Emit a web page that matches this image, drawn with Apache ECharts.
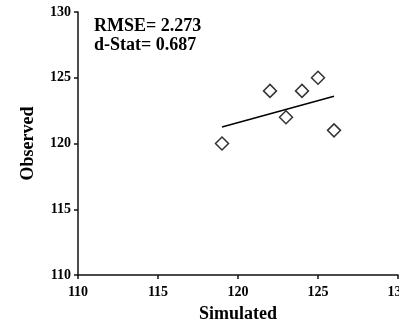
<!DOCTYPE html>
<html>
<head>
<meta charset="utf-8">
<script src="https://cdn.jsdelivr.net/npm/echarts@6/dist/echarts.min.js"></script>
<style>html,body{margin:0;padding:0;background:#fff}#c{width:399px;height:323px}</style>
</head>
<body>
<div id="c"></div>
<script>
var simulated = [119, 122, 123, 124, 125, 126];
var observed = [120, 124, 122, 124, 125, 121];
var trendX = [119, 126];
var trendY = [121.25, 123.6];
var statLines = ['RMSE= 2.273', 'd-Stat= 0.687'];
var xTitle = 'Simulated';
var yTitle = 'Observed';

var font = '"Liberation Serif", "Times New Roman", serif';
var chart = echarts.init(document.getElementById('c'), null, {renderer: 'canvas'});
var axisCommon = {
  min: 110, max: 130, interval: 5,
  axisLine: {show: true, lineStyle: {color: '#111', width: 1.5}},
  axisTick: {show: true, inside: false, length: 4, lineStyle: {color: '#111', width: 1.5}},
  splitLine: {show: false},
  axisLabel: {color: '#000', fontFamily: font, fontWeight: 'bold', fontSize: 14},
  nameLocation: 'middle',
  nameTextStyle: {color: '#000', fontFamily: font, fontWeight: 'bold', fontSize: 18}
};
chart.setOption({
  animation: false,
  grid: {left: 78, right: 1, top: 12, bottom: 48, containLabel: false, outerBoundsMode: 'none'},
  xAxis: Object.assign({}, axisCommon, {type: 'value', name: xTitle, nameGap: 30,
    axisLabel: Object.assign({}, axisCommon.axisLabel, {margin: 10})}),
  yAxis: Object.assign({}, axisCommon, {type: 'value', name: yTitle, nameGap: 41,
    axisLabel: Object.assign({}, axisCommon.axisLabel, {margin: 7})}),
  graphic: statLines.map(function (t, i) {
    return {type: 'text', left: 94, top: 17 + i * 19,
      style: {text: t, fill: '#000', font: 'bold 18px ' + font}};
  }),
  series: [
    {type: 'line', data: trendX.map(function (x, i) { return [x, trendY[i]]; }),
      showSymbol: false, lineStyle: {color: '#000', width: 1.5}, silent: true},
    {type: 'scatter', data: simulated.map(function (x, i) { return [x, observed[i]]; }),
      symbol: 'diamond', symbolSize: 13,
      itemStyle: {color: '#fff', borderColor: '#000', borderWidth: 1.5}}
  ]
});
</script>
</body>
</html>
